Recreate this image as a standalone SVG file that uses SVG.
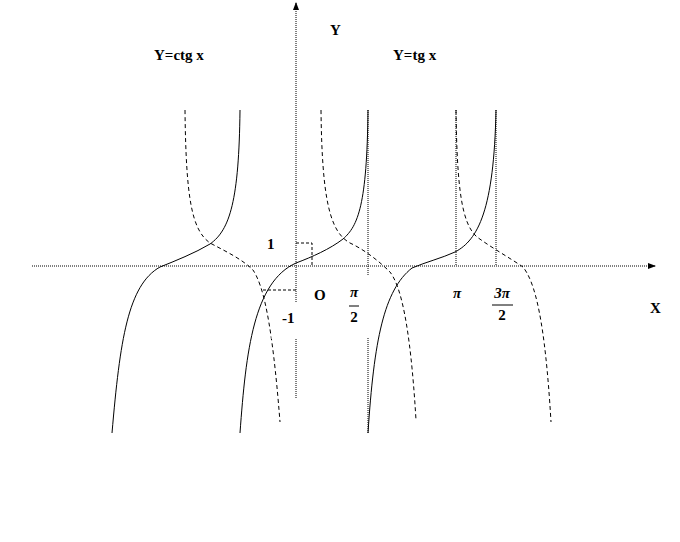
<svg xmlns="http://www.w3.org/2000/svg" width="680" height="542" viewBox="0 0 680 542">
<style>
.lbl{font-family:"Liberation Serif","Times New Roman",serif;font-weight:bold;font-size:15px;fill:#000}
.pi{font-family:"Liberation Serif","Times New Roman",serif;font-weight:bold;font-style:italic;font-size:15px;fill:#000}
.axis{stroke:#000;stroke-width:1;stroke-dasharray:1,1;fill:none}
.asym{stroke:#000;stroke-width:1;stroke-dasharray:1,1;fill:none}
.tg{stroke:#000;stroke-width:1;fill:none}
.ctg{stroke:#000;stroke-width:1;stroke-dasharray:4,3;fill:none}
.aux{stroke:#000;stroke-width:1;stroke-dasharray:3,2;fill:none}
.frac{stroke:#000;stroke-width:1}
</style>
<defs>
<marker id="arr" markerWidth="8" markerHeight="8" refX="7" refY="4" orient="auto" markerUnits="userSpaceOnUse">
<path d="M0,1 L8,4 L0,7 Z" fill="#000"/>
</marker>
</defs>
<rect width="680" height="542" fill="#fff"/>
<g id="connectors">
<g id="axes">
<line class="axis" x1="32" y1="266" x2="655" y2="266" marker-end="url(#arr)"/>
<line class="axis" x1="296" y1="302" x2="296" y2="3" marker-end="url(#arr)"/>
<line class="axis" x1="296" y1="339" x2="296" y2="398"/>
</g>
<g id="asymptotes">
<line class="asym" x1="368" y1="110" x2="368" y2="276"/>
<line class="asym" x1="368" y1="338" x2="368" y2="433"/>
<line class="asym" x1="456" y1="110" x2="456" y2="266"/>
<line class="asym" x1="496" y1="110" x2="496" y2="266"/>
</g>
<g id="guides">
<path class="aux" d="M296,243 H312 V266"/>
<path class="aux" d="M263,290 H296"/>
</g>
<g id="tg-curves">
<path class="tg" d="M112,433 C120,340 128,285 160,267 C175,261 195,253 210,244 C230,230 239,200 240,110"/>
<path class="tg" d="M240,433 C246,350 254,282 296,263 C312,257 330,249 343,239 C358,226 367,205 368,110"/>
<path class="tg" d="M368,433 C374,340 384,290 412,268 C426,262 442,258 455,252 C478,240 494,210 496,110"/>
</g>
<g id="ctg-curves">
<path class="ctg" d="M185,110 C186,200 192,230 210,243 C225,251 242,259 253,270 C263,285 272,320 280,422"/>
<path class="ctg" d="M321,110 C322,200 330,232 350,243 C365,250 380,262 390,272 C400,285 410,320 416,420"/>
<path class="ctg" d="M456,110 C457,190 462,224 477,237 C492,248 510,258 523,267 C535,282 545,320 551,422"/>
</g>
</g>
<g id="label-ctg"><text class="lbl" x="154" y="60">Y=ctg x</text></g>
<g id="label-tg"><text class="lbl" x="393" y="60">Y=tg x</text></g>
<g id="label-Y"><text class="lbl" x="330" y="35">Y</text></g>
<g id="label-X"><text class="lbl" x="650" y="313">X</text></g>
<g id="label-1"><text class="lbl" x="267" y="249">1</text></g>
<g id="label-O"><text class="lbl" x="314" y="300">O</text></g>
<g id="label-m1">
<rect x="271.5" y="302" width="24" height="37" fill="#fff"/>
<text class="lbl" x="282" y="323">-1</text>
</g>
<g id="label-pi2">
<text class="pi" x="354" y="297" text-anchor="middle">π</text>
<line class="frac" x1="349" y1="306" x2="359" y2="306"/>
<text class="lbl" x="354" y="322" text-anchor="middle">2</text>
</g>
<g id="label-pi"><text class="pi" x="457" y="298" text-anchor="middle">π</text></g>
<g id="label-3pi2">
<text class="pi" x="502" y="298" text-anchor="middle">3π</text>
<line class="frac" x1="492" y1="305" x2="513" y2="305"/>
<text class="lbl" x="502" y="320" text-anchor="middle">2</text>
</g>
</svg>
